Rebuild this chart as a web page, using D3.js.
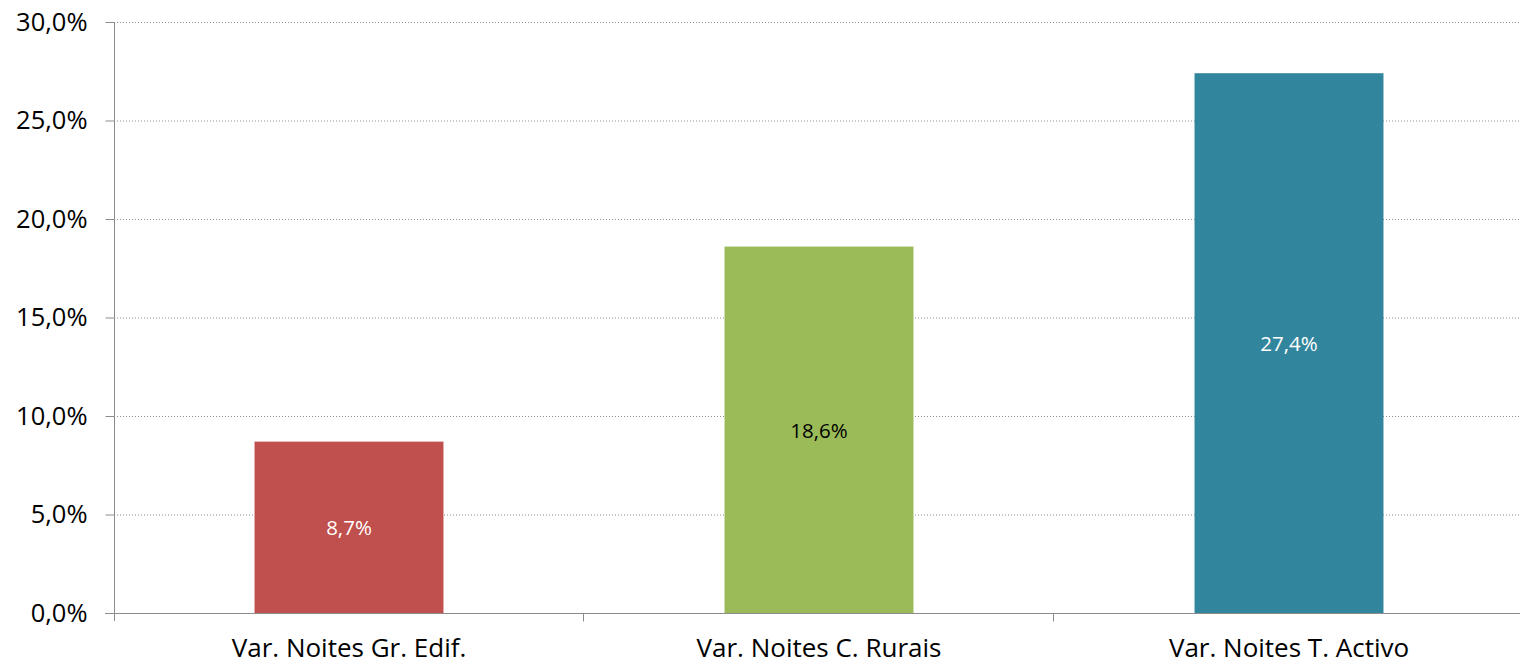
<!DOCTYPE html>
<html><head><meta charset="utf-8">
<script src="https://cdn.jsdelivr.net/npm/d3@7"></script>
<style>body{margin:0;background:#fff}svg{display:block}</style>
</head><body>
<svg id="c" width="1520" height="664"></svg>
<script>
const categories = ["Var. Noites Gr. Edif.", "Var. Noites C. Rurais", "Var. Noites T. Activo"];
const values = [8.7, 18.6, 27.4];
const colors = ["#C0504D", "#9BBB59", "#31859C"];
const labelColors = ["#ffffff", "#000000", "#ffffff"];
const yTicks = [0, 5, 10, 15, 20, 25, 30];

(function () {
const svg = d3.select("#c");
const font = "'Open Sans', sans-serif";
const pl = 114, pr = 1524, pt = 22, pb = 613;

const x = d3.scaleBand().domain(categories).range([pl, pr]).paddingInner(0.598).paddingOuter(0.299);
const y = d3.scaleLinear().domain([0, 30]).range([pb, pt]);
const fmt = v => v.toFixed(1).replace(".", ",") + "%";

// gridlines
svg.append("g").selectAll("line").data(yTicks.filter(t => t > 0)).join("line")
  .attr("x1", pl).attr("x2", 1520)
  .attr("y1", d => y(d) + 0.5).attr("y2", d => y(d) + 0.5)
  .attr("stroke", "#8c8c8c").attr("stroke-width", 1).attr("stroke-dasharray", "1,2");

// bars
svg.append("g").selectAll("rect").data(values).join("rect")
  .attr("x", (d, i) => x(categories[i])).attr("width", x.bandwidth())
  .attr("y", d => y(d)).attr("height", d => y(0) - y(d))
  .attr("fill", (d, i) => colors[i]);

// data labels
svg.append("g").selectAll("text").data(values).join("text")
  .attr("x", (d, i) => x(categories[i]) + x.bandwidth() / 2)
  .attr("y", d => (y(d) + y(0)) / 2 + 1)
  .attr("dy", "0.35em").attr("text-anchor", "middle")
  .attr("font-family", font).attr("font-size", 20.5)
  .attr("fill", (d, i) => labelColors[i])
  .text(d => fmt(d));

// y axis
const ya = svg.append("g").attr("transform", `translate(${pl + 0.5},0)`)
  .call(d3.axisLeft(y).tickValues(yTicks).tickFormat(fmt).tickSize(9).tickSizeOuter(0).tickPadding(18));
ya.select(".domain").attr("stroke", "#8c8c8c").attr("d", `M0,${pt}V${pb + 8}`);
ya.selectAll(".tick line").attr("stroke", "#8c8c8c");
ya.selectAll(".tick text").attr("font-family", font).attr("font-size", 25.5).attr("fill", "#000");

// x axis
const xa = svg.append("g").attr("transform", `translate(0,${pb + 0.5})`);
xa.append("line").attr("x1", pl - 9).attr("x2", 1520).attr("stroke", "#8c8c8c");
const bounds = [1, 2].map(i => pl + i * x.step());
xa.selectAll(".tk").data(bounds).join("line").attr("class", "tk")
  .attr("x1", d => Math.round(d) - 0.5).attr("x2", d => Math.round(d) - 0.5)
  .attr("y1", 0).attr("y2", 8).attr("stroke", "#8c8c8c");
xa.selectAll("text").data(categories).join("text")
  .attr("x", d => x(d) + x.bandwidth() / 2).attr("y", 43.5)
  .attr("text-anchor", "middle").attr("font-family", font).attr("font-size", 26).attr("fill", "#000")
  .text(d => d);
})();
</script>
</body></html>
